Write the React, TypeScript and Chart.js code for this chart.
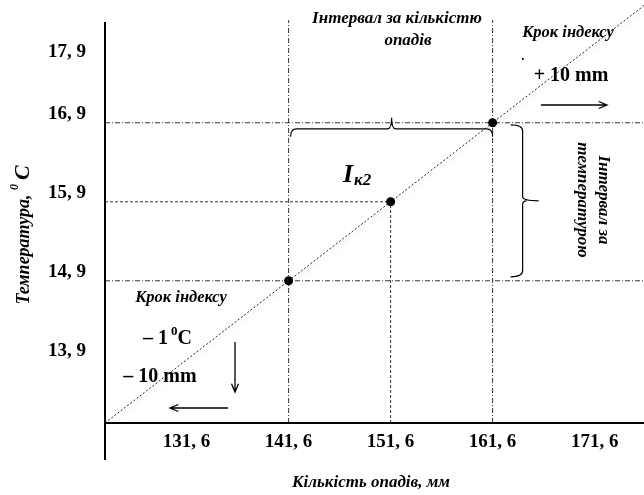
import React, { useEffect, useRef } from 'react';
import { Chart, registerables } from 'chart.js';

Chart.register(...registerables);

// ---- data ----
const precipitation = [141.6, 151.6, 161.6]; // mm
const temperature = [14.9, 15.9, 16.9]; // °C
const xTickValues = [131.6, 141.6, 151.6, 161.6, 171.6];
const yTickValues = [13.9, 14.9, 15.9, 16.9, 17.9];
const yLabelDropped = [false, false, false, false, true];
const xLimits = [123.6, 176.44];
const yLimits = [13.1, 18.454];
const indexLineX = [123.6, 176.44];
const indexLineY = [13.1, 18.384];
const guideTop = 18.2;
const guideReachesEdge = [true, false, true];

const FONT = '"Liberation Serif", "Times New Roman", serif';
const DASH_DOT = [5, 2, 1, 2];
const DASHED = [3, 2];
const guideDash = [DASH_DOT, DASHED, DASH_DOT];

const fmt = (v: number) => v.toFixed(1).replace('.', ', ');

function drawText(
  ctx: CanvasRenderingContext2D,
  s: string,
  x: number,
  y: number,
  font: string,
  align: CanvasTextAlign = 'center',
  baseline: CanvasTextBaseline = 'middle'
) {
  ctx.font = font;
  ctx.textAlign = align;
  ctx.textBaseline = baseline;
  ctx.fillText(s, x, y);
}

function arrow(ctx: CanvasRenderingContext2D, x1: number, y1: number, x2: number, y2: number) {
  const a = Math.atan2(y2 - y1, x2 - x1);
  const h = 9;
  ctx.beginPath();
  ctx.moveTo(x1, y1);
  ctx.lineTo(x2, y2);
  ctx.moveTo(x2 - h * Math.cos(a - 0.4), y2 - h * Math.sin(a - 0.4));
  ctx.lineTo(x2, y2);
  ctx.lineTo(x2 - h * Math.cos(a + 0.4), y2 - h * Math.sin(a + 0.4));
  ctx.stroke();
}

const shadowPlugin = {
  id: 'indexShadow',
  beforeDatasetDraw(chart: any, args: any) {
    const ds = chart.data.datasets[args.index];
    if (ds.label === 'index-line') {
      const ctx = chart.ctx;
      ctx.save();
      ctx.shadowColor = 'rgba(0,0,0,0.22)';
      ctx.shadowBlur = 4;
      ctx.shadowOffsetX = 2;
      ctx.shadowOffsetY = 3;
    }
  },
  afterDatasetDraw(chart: any, args: any) {
    const ds = chart.data.datasets[args.index];
    if (ds.label === 'index-line') chart.ctx.restore();
  },
};

const decorPlugin = {
  id: 'decor',
  afterDraw(chart: any) {
    const { ctx, chartArea } = chart;
    const xs = chart.scales.x;
    const ys = chart.scales.y;
    ctx.save();
    ctx.fillStyle = '#000';
    ctx.strokeStyle = '#000';

    // axes
    ctx.lineWidth = 2;
    ctx.beginPath();
    ctx.moveTo(chartArea.left, 22);
    ctx.lineTo(chartArea.left, 460);
    ctx.stroke();
    ctx.beginPath();
    ctx.moveTo(chartArea.left, chartArea.bottom);
    ctx.lineTo(chartArea.right, chartArea.bottom);
    ctx.stroke();

    // horizontal brace (precipitation interval)
    ctx.lineWidth = 1.2;
    const xL = xs.getPixelForValue(precipitation[0]) + 2;
    const xR = xs.getPixelForValue(precipitation[2]);
    const xc = (xL + xR) / 2;
    const yB = ys.getPixelForValue(temperature[2]) + 6;
    ctx.beginPath();
    ctx.moveTo(xL, yB + 8);
    ctx.quadraticCurveTo(xL, yB, xL + 6, yB);
    ctx.lineTo(xc - 4, yB);
    ctx.quadraticCurveTo(xc, yB, xc, yB - 11);
    ctx.quadraticCurveTo(xc, yB, xc + 4, yB);
    ctx.lineTo(xR - 6, yB);
    ctx.quadraticCurveTo(xR, yB, xR, yB + 8);
    ctx.stroke();

    // vertical brace (temperature interval)
    const xB = xs.getPixelForValue(precipitation[2]) + 30;
    const yT = ys.getPixelForValue(temperature[2]) + 2;
    const yBo = ys.getPixelForValue(temperature[0]) - 4;
    const yc = (yT + yBo) / 2;
    ctx.beginPath();
    ctx.moveTo(xB - 12, yT);
    ctx.quadraticCurveTo(xB, yT, xB, yT + 6);
    ctx.lineTo(xB, yc - 4);
    ctx.quadraticCurveTo(xB, yc, xB + 16, yc);
    ctx.moveTo(xB, yc + 4);
    ctx.quadraticCurveTo(xB, yc, xB + 4, yc);
    ctx.moveTo(xB, yc + 4);
    ctx.lineTo(xB, yBo - 6);
    ctx.quadraticCurveTo(xB, yBo, xB - 12, yBo);
    ctx.stroke();

    // arrows
    ctx.lineWidth = 1.3;
    arrow(ctx, 541, 105, 607, 105);
    arrow(ctx, 235, 342, 235, 392);
    arrow(ctx, 228, 408, 170, 408);

    // small stray dot
    ctx.fillRect(522, 58, 1.6, 2);

    // texts
    const bi = (s: number) => `italic bold ${s}px ${FONT}`;
    const b = (s: number) => `bold ${s}px ${FONT}`;
    drawText(ctx, 'Інтервал за кількістю', 397, 19, bi(17));
    drawText(ctx, 'опадів', 408, 41, bi(17));
    drawText(ctx, 'Крок індексу', 568, 33, bi(16.5));
    drawText(ctx, '+ 10 mm', 571, 76, b(20));
    drawText(ctx, 'Крок індексу', 181, 298, bi(16.5));
    drawText(ctx, '– 10 mm', 160, 377, b(20));

    // – 1 ⁰C
    ctx.font = b(20);
    ctx.textAlign = 'left';
    ctx.textBaseline = 'alphabetic';
    ctx.fillText('– 1', 143, 344);
    let w = ctx.measureText('– 1').width;
    ctx.font = b(13);
    ctx.fillText('0', 143 + w + 3, 335);
    const w0 = ctx.measureText('0').width;
    ctx.font = b(20);
    ctx.fillText('C', 143 + w + 3 + w0, 344);

    // I к2
    ctx.font = bi(26);
    ctx.fillText('I', 343, 182);
    w = ctx.measureText('I').width;
    ctx.font = bi(17);
    ctx.fillText('к2', 343 + w + 1, 185);

    // rotated temperature interval text
    ctx.save();
    ctx.translate(592, 200);
    ctx.rotate(Math.PI / 2);
    drawText(ctx, 'Інтервал за', 0, -11, bi(17));
    drawText(ctx, 'температурою', 0, 10, bi(17));
    ctx.restore();

    // y axis title
    ctx.save();
    ctx.translate(23, 235);
    ctx.rotate(-Math.PI / 2);
    const p1 = 'Температура, ';
    ctx.font = bi(18);
    const wa = ctx.measureText(p1).width;
    ctx.font = bi(12);
    const wb = ctx.measureText('0').width;
    ctx.font = bi(22);
    const wc = ctx.measureText('C').width;
    let sx = -(wa + wb + 4 + wc) / 2;
    ctx.textAlign = 'left';
    ctx.textBaseline = 'alphabetic';
    ctx.font = bi(18);
    ctx.fillText(p1, sx, 6);
    sx += wa;
    ctx.font = bi(12);
    ctx.fillText('0', sx, -5);
    sx += wb + 4;
    ctx.font = bi(22);
    ctx.fillText('C', sx, 6);
    ctx.restore();

    // x axis title
    drawText(ctx, 'Кількість опадів, мм', 371, 483, bi(17));

    ctx.restore();
  },
};

export default function App() {
  const ref = useRef<HTMLCanvasElement | null>(null);

  useEffect(() => {
    if (!ref.current) return;
    const guides: any[] = [];
    precipitation.forEach((p, i) => {
      const t = temperature[i];
      guides.push({
        label: 'v-guide',
        data: [
          { x: p, y: yLimits[0] },
          { x: p, y: guideReachesEdge[i] ? guideTop : t },
        ],
        showLine: true,
        borderColor: '#333',
        borderWidth: 1,
        borderDash: guideDash[i],
        pointRadius: 0,
        order: 2,
      });
      guides.push({
        label: 'h-guide',
        data: [
          { x: xLimits[0], y: t },
          { x: guideReachesEdge[i] ? xLimits[1] : p, y: t },
        ],
        showLine: true,
        borderColor: '#333',
        borderWidth: 1,
        borderDash: guideDash[i],
        pointRadius: 0,
        order: 2,
      });
    });

    const chart = new Chart(ref.current, {
      type: 'scatter',
      data: {
        datasets: [
          {
            label: 'points',
            data: precipitation.map((p, i) => ({ x: p, y: temperature[i] })),
            pointRadius: 4.5,
            pointHoverRadius: 4.5,
            pointBackgroundColor: '#000',
            pointBorderColor: '#000',
            pointBorderWidth: 0,
            showLine: false,
            order: 0,
          },
          {
            label: 'index-line',
            data: indexLineX.map((x, i) => ({ x, y: indexLineY[i] })),
            showLine: true,
            borderColor: '#222',
            borderWidth: 1,
            borderDash: [2, 2],
            pointRadius: 0,
            order: 1,
          },
          ...guides,
        ],
      },
      options: {
        animation: false,
        responsive: false,
        devicePixelRatio: 1,
        layout: { padding: 0, autoPadding: false },
        plugins: { legend: { display: false }, tooltip: { enabled: false } },
        events: [],
        scales: {
          x: {
            type: 'linear',
            min: xLimits[0],
            max: xLimits[1],
            grid: { display: false, drawTicks: false },
            border: { display: false },
            afterBuildTicks: (s: any) => {
              s.ticks = xTickValues.map((v) => ({ value: v }));
            },
            afterFit: (s: any) => {
              s.height = 72;
              s.paddingLeft = 0;
              s.paddingRight = 0;
            },
            ticks: {
              autoSkip: false,
              maxRotation: 0,
              padding: 8,
              color: '#000',
              font: { family: FONT, size: 19, weight: 'bold' },
              callback: (v: any) => fmt(Number(v)),
            },
          },
          y: {
            type: 'linear',
            min: yLimits[0],
            max: yLimits[1],
            grid: { display: false, drawTicks: false },
            border: { display: false },
            afterBuildTicks: (s: any) => {
              s.ticks = yTickValues.map((v) => ({ value: v }));
            },
            afterFit: (s: any) => {
              s.width = 105;
              s.paddingTop = 0;
              s.paddingBottom = 0;
            },
            ticks: {
              autoSkip: false,
              padding: 19,
              color: '#000',
              font: { family: FONT, size: 19, weight: 'bold', lineHeight: 0.9 },
              callback: (v: any, i: number) =>
                yLabelDropped[i] ? ['', fmt(Number(v))] : [fmt(Number(v)), ''],
            },
          },
        },
      },
      plugins: [shadowPlugin, decorPlugin],
    } as any);
    return () => chart.destroy();
  }, []);

  return (
    <div style={{ position: 'fixed', left: 0, top: 0, width: 644, height: 495, background: '#fff' }}>
      <canvas ref={ref} width={644} height={495} style={{ display: 'block', width: 644, height: 495 }} />
    </div>
  );
}
